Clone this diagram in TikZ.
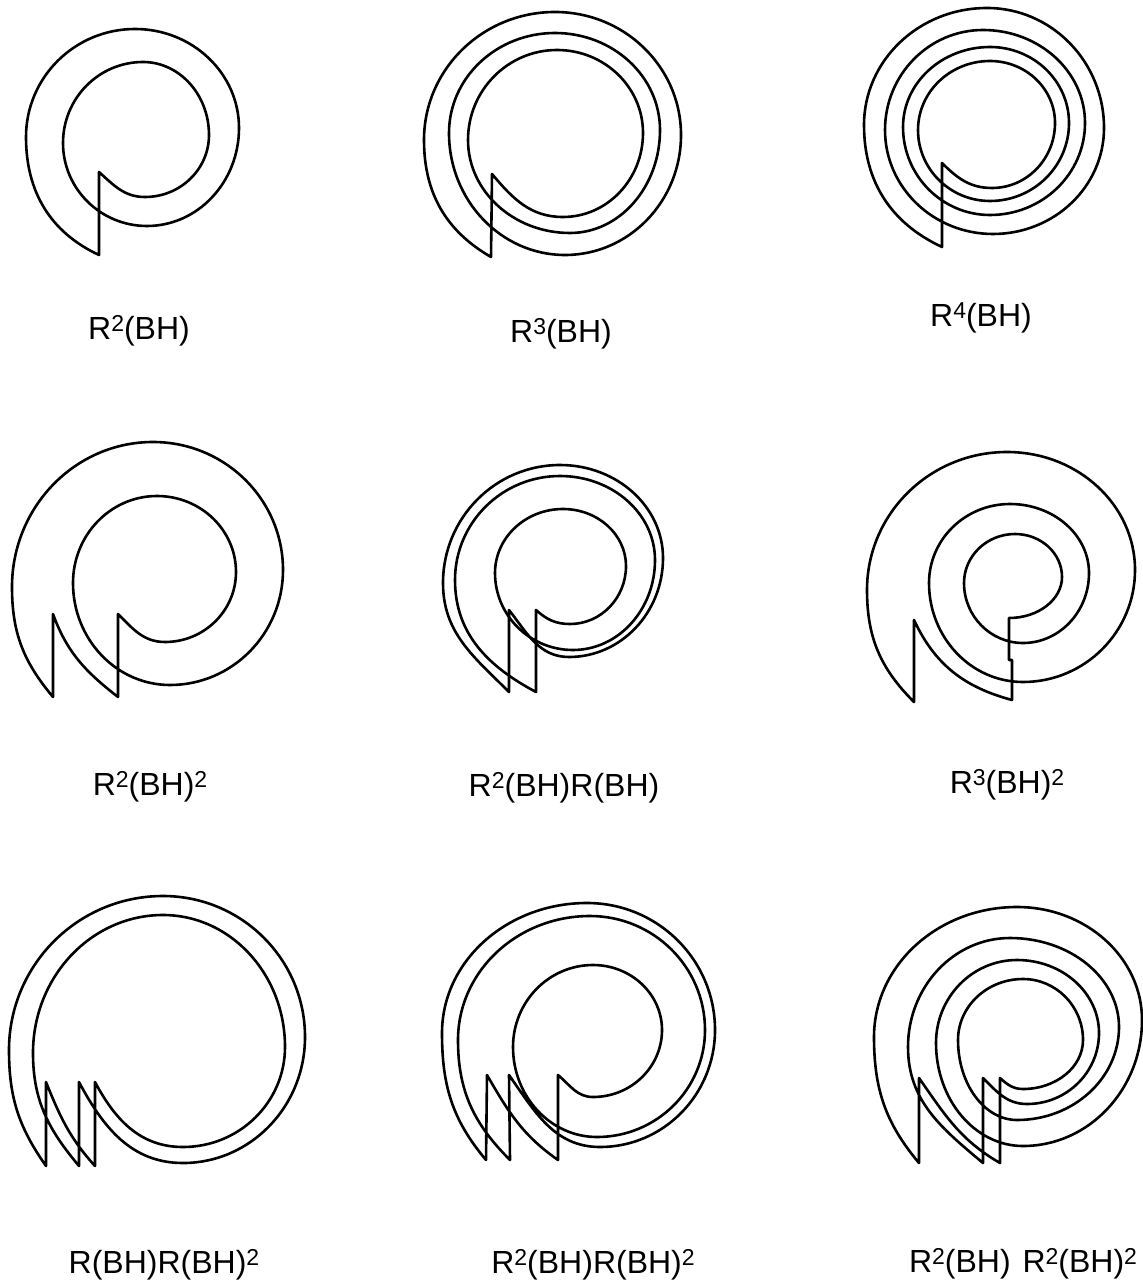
\documentclass[tikz,border=0pt]{standalone}
\usepackage{fontspec}
\setmainfont{Liberation Sans}
\newcommand{\sq}[1]{\raisebox{3.8pt}{\fontsize{11.5pt}{12pt}\selectfont #1}}
% path builder: coordinates are reference pixels (x right, y down)
\newcommand\Bg[2]{\gdef\px{#1}\gdef\py{#2}\gdef\pth{(#1,-#2)}}
\newcommand\qH[2]{\pgfmathsetmacro\ca{\px+0.5523*(#1-\px)}\pgfmathsetmacro\cb{#2+0.5523*(\py-#2)}%
  \xdef\pth{\pth .. controls (\ca,-\py) and (#1,-\cb) .. (#1,-#2)}\gdef\px{#1}\gdef\py{#2}}
\newcommand\qV[2]{\pgfmathsetmacro\ca{\py+0.5523*(#2-\py)}\pgfmathsetmacro\cb{#1+0.5523*(\px-#1)}%
  \xdef\pth{\pth .. controls (\px,-\ca) and (\cb,-#2) .. (#1,-#2)}\gdef\px{#1}\gdef\py{#2}}
\newcommand\Tt[4]{\xdef\pth{\pth to[out=#3,in=#4] (#1,-#2)}\gdef\px{#1}\gdef\py{#2}}
\newcommand\Ln[2]{\xdef\pth{\pth -- (#1,-#2)}\gdef\px{#1}\gdef\py{#2}}
\tikzset{
  spiral/.style={draw=black,line width=1.3pt,line join=round,line cap=round},
  caption/.style={inner sep=0pt,font=\fontsize{16pt}{18pt}\selectfont,text=black,anchor=center}
}
\begin{document}
\begin{tikzpicture}[x=0.5pt,y=0.5pt]
\useasboundingbox (0,0) rectangle (1143,-1288);
\fill[white] (0,0) rectangle (1143,-1288);

% R^2(BH)
\Bg{99}{172}\Tt{145}{197}{-42}{180}\qH{209}{135}\qV{143}{62}\qH{63}{143}\qV{147}{226}\qH{239}{128}\qV{135}{29}\qH{26}{137}\Tt{99}{255}{-90}{155}
\path[spiral] \pth -- cycle;

% R^3(BH)
\Bg{492}{174}\Tt{563}{217}{-50}{180}\qH{643}{133}\qV{557}{50}\qH{468}{140}\qV{570}{233}\qH{660}{130}\qV{555}{33}\qH{449}{133}\qV{565}{255}\qH{681}{135}\qV{555}{12}\qH{424}{140}\Tt{491}{257}{-90}{150}
\path[spiral] \pth -- cycle;

% R^4(BH)
\Bg{942}{163}\Tt{992}{188}{-45}{180}\qH{1055}{123}\qV{990}{61}\qH{918}{130}\qV{990}{201}\qH{1069}{123}\qV{990}{47}\qH{903}{127}\qV{990}{215}\qH{1085}{123}\qV{983}{30}\qH{885}{130}\qV{993}{234}\qH{1104}{128}\qV{987}{8}\qH{864}{125}\Tt{942}{247}{-90}{155}
\path[spiral] \pth -- cycle;

% R^2(BH)^2
\Bg{118}{614}\Tt{165}{642}{-45}{180}\qH{236}{572}\qV{157}{496}\qH{73}{583}\qV{170}{685}\qH{283}{570}\qV{153}{442}\qH{12}{587}\Tt{53}{697}{-90}{130}\Ln{53}{614}\Tt{118}{697}{-70}{142}
\path[spiral] \pth -- cycle;

% R^2(BH)R(BH)
\Bg{536}{610}\Tt{570}{624}{-42}{180}\qH{626}{566}\qV{563}{509}\qH{495}{573}\qV{573}{650}\qH{655}{560}\qV{560}{476}\qH{455}{580}\Tt{536}{692}{-90}{152}
\path[spiral] \pth -- cycle;
\Bg{509}{610}\Tt{569}{657}{-52}{180}\qH{663}{558}\qV{560}{465}\qH{443}{583}\Tt{509}{692}{-90}{135}
\path[spiral] \pth -- cycle;

% R^3(BH)^2
\Bg{1009}{618}\qH{1062}{577}\qV{1015}{534}\qH{964}{583}\qV{1023}{643}\qH{1089}{573}\qV{1010}{504}\qH{929}{583}\qV{1023}{682}\qH{1135}{570}\qV{1007}{452}\qH{867}{590}\Tt{914}{702}{-90}{135}\Ln{914}{620}\Tt{1012}{700}{-65}{165}\Ln{1012}{660}\Ln{1009}{660}
\path[spiral] \pth -- cycle;

% R(BH)R(BH)^2
\Bg{95}{1082}\Tt{183}{1147}{-62}{180}\qH{285}{1047}\qV{163}{915}\qH{33}{1053}\Tt{79}{1166}{-90}{130}\Ln{79}{1082}\Tt{183}{1163}{-62}{180}\qH{305}{1037}\qV{163}{896}\qH{9}{1050}\Tt{46}{1166}{-90}{125}\Ln{46}{1082}\Tt{95}{1166}{-68}{132}
\path[spiral] \pth -- cycle;

% R^2(BH)R(BH)^2
\Bg{558}{1075}\Tt{593}{1097}{-40}{180}\qH{662}{1030}\qV{593}{965}\qH{513}{1047}\qV{597}{1137}\qH{705}{1030}\qV{590}{916}\qH{458}{1040}\Tt{510}{1160}{-90}{135}\Ln{509}{1075}\Tt{600}{1147}{-55}{180}\qH{715}{1030}\qV{587}{903}\qH{442}{1033}\Tt{486}{1160}{-90}{130}\Ln{487}{1075}\Tt{558}{1160}{-60}{145}
\path[spiral] \pth -- cycle;

% R^2(BH) R^2(BH)^2
\Bg{1000}{1078}\Tt{1023}{1089}{-42}{180}\qH{1083}{1040}\qV{1023}{979}\qH{958}{1040}\qV{1017}{1120}\qH{1119}{1027}\qV{1010}{938}\qH{908}{1047}\Tt{983}{1163}{-90}{140}\Ln{983}{1078}\Tt{1027}{1104}{-45}{180}\qH{1099}{1033}\qV{1017}{960}\qH{936}{1043}\qV{1023}{1146}\qH{1142}{1020}\qV{1017}{907}\qH{874}{1037}\Tt{919}{1163}{-90}{130}\Ln{919}{1078}\Tt{1000}{1163}{-55}{150}
\path[spiral] \pth -- cycle;

% captions
\node[caption] (c1) at (139,-331) {R\sq{2}(BH)};
\node[caption] (c2) at (561,-334) {R\sq{3}(BH)};
\node[caption] (c3) at (981,-318) {R\sq{4}(BH)};
\node[caption] (c4) at (150,-787) {R\sq{2}(BH)\sq{2}};
\node[caption] (c5) at (564,-788) {R\sq{2}(BH)R(BH)};
\node[caption] (c6) at (1007,-785) {R\sq{3}(BH)\sq{2}};
\node[caption] (c7) at (164,-1265) {R(BH)R(BH)\sq{2}};
\node[caption] (c8) at (593,-1265) {R\sq{2}(BH)R(BH)\sq{2}};
\node[caption] (c9) at (1023,-1264) {R\sq{2}(BH)\hspace{1.5pt} R\sq{2}(BH)\sq{2}};
\end{tikzpicture}
\end{document}
